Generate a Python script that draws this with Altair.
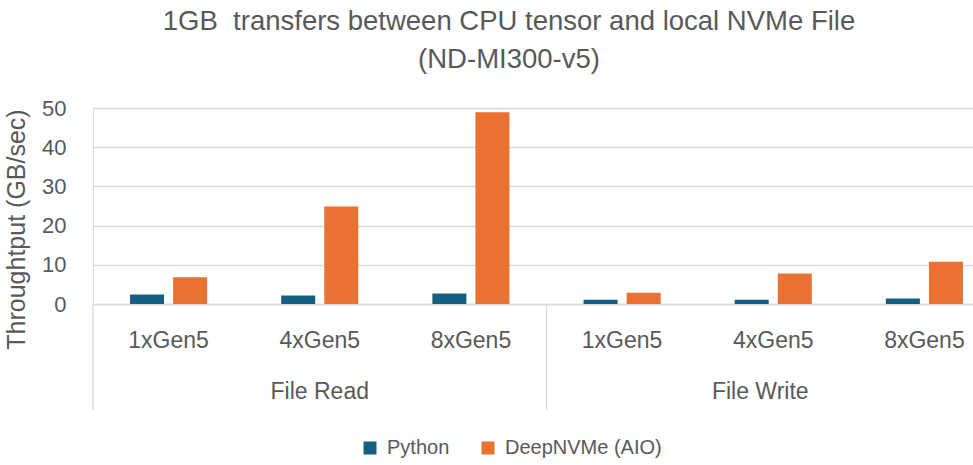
import altair as alt
import pandas as pd

operations = ["File Read", "File Write"]
configs = ["1xGen5", "4xGen5", "8xGen5"]
series = ["Python", "DeepNVMe (AIO)"]
python_vals = [2.4, 2.2, 2.7, 1.1, 1.1, 1.4]
deepnvme_vals = [6.8, 24.9, 48.9, 2.9, 7.8, 10.8]
y_ticks = [0, 10, 20, 30, 40, 50]
title_lines = ["1GB\u00a0 transfers between CPU tensor and local NVMe File", "(ND-MI300-v5)"]
y_title = "Throughtput (GB/sec)"

FONT = "Liberation Sans"
TXT = "#595959"
GRID = "#D9D9D9"

keys = [f"{op}|{c}" for op in operations for c in configs]
rows = []
for i, k in enumerate(keys):
    rows.append({"key": k, "series": series[0], "value": python_vals[i]})
    rows.append({"key": k, "series": series[1], "value": deepnvme_vals[i]})
df = pd.DataFrame(rows)

xscale = alt.Scale(domain=keys, range=[0, 907], paddingInner=0, paddingOuter=0)
x_axis = alt.Axis(labelExpr="split(datum.label, '|')[1]", labelAngle=0,
                  labelFontSize=23, labelColor=TXT, labelFont=FONT,
                  labelPadding=25, ticks=False, grid=False, title=None,
                  domainColor=GRID, domainWidth=1.3)

bars = alt.Chart(df).mark_bar().encode(
    x=alt.X("key:N", scale=xscale, title=None, axis=x_axis),
    xOffset=alt.XOffset("series:N", scale=alt.Scale(domain=series, paddingInner=0.21, paddingOuter=0.86)),
    y=alt.Y("value:Q", scale=alt.Scale(domain=[0, 50], nice=False),
            axis=alt.Axis(values=y_ticks, labelFontSize=22, labelColor=TXT, labelFont=FONT,
                          labelPadding=27, ticks=False, domain=False,
                          gridColor=GRID, gridWidth=1.3,
                          title=y_title, titleFontSize=25, titleColor=TXT, titleFont=FONT,
                          titleFontWeight="normal", titleAngle=-90, titleX=-64, titleY=121,
                          titleBaseline="bottom", titleAlign="center")),
    color=alt.Color("series:N", scale=alt.Scale(domain=series, range=["#156082", "#E97132"]),
                    legend=alt.Legend(orient="none", legendX=267, legendY=330, direction="horizontal",
                                      title=None, symbolType="square", symbolSize=169,
                                      symbolStrokeWidth=0, labelFontSize=20, labelColor=TXT,
                                      labelFont=FONT, labelOffset=7, columnPadding=28)),
)

div_df = pd.DataFrame({"key": [keys[0], keys[3]]})
dividers = alt.Chart(div_df).mark_rule(color=GRID, strokeWidth=1.3).encode(
    x=alt.X("key:N", scale=xscale, bandPosition=0, title=None, axis=x_axis),
    y=alt.value(196),
    y2=alt.value(302),
)

read_df = pd.DataFrame({"key": [keys[1]], "label": [operations[0]]})
write_df = pd.DataFrame({"key": [keys[4]], "label": [operations[1]]})
read_lbl = alt.Chart(read_df).mark_text(fontSize=23, font=FONT, color=TXT, baseline="alphabetic").encode(
    x=alt.X("key:N", scale=xscale, title=None, axis=x_axis), y=alt.value(291), text="label:N")
write_lbl = alt.Chart(write_df).mark_text(fontSize=23, font=FONT, color=TXT, baseline="alphabetic", dx=-13).encode(
    x=alt.X("key:N", scale=xscale, title=None, axis=x_axis), y=alt.value(291), text="label:N")

chart = alt.layer(bars, dividers, read_lbl, write_lbl).properties(
    width=880, height=196,
    autosize=alt.AutoSizeParams(type="none"),
    padding={"left": 93, "top": 108, "right": 0, "bottom": 161},
    title=alt.TitleParams(title_lines, fontSize=27.5, font=FONT, color=TXT, fontWeight="normal",
                          lineHeight=38, anchor="middle", dx=-24, offset=24),
).configure_view(stroke=None).configure(background="white")

chart.save("out.html", embed_options={"renderer": "svg", "actions": False})
